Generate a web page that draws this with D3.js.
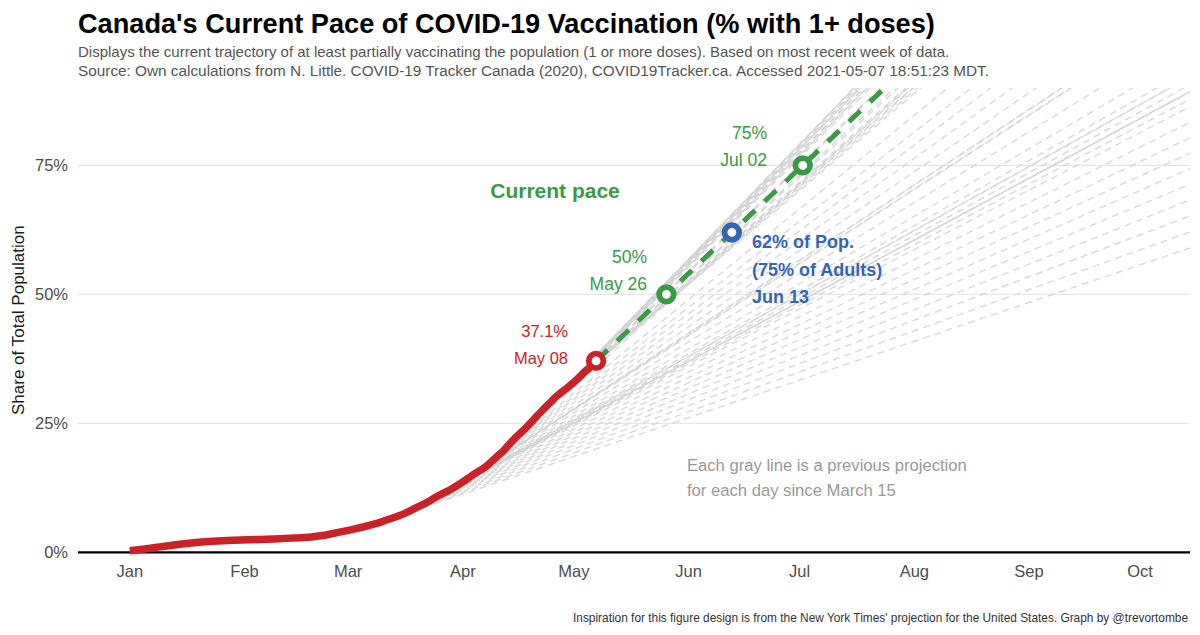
<!DOCTYPE html>
<html><head><meta charset="utf-8">
<script src="https://cdn.jsdelivr.net/npm/d3@7"></script>
<style>
body{margin:0;background:#fff;}
svg{display:block;font-family:"Liberation Sans",Arial,Helvetica,sans-serif;}
</style></head><body>
<svg id="chart" width="1200" height="635"></svg>
<script>
// ---------------- DATA ----------------
const titleText = "Canada's Current Pace of COVID-19 Vaccination (% with 1+ doses)";
const subtitleLines = [
  "Displays the current trajectory of at least partially vaccinating the population (1 or more doses). Based on most recent week of data.",
  "Source: Own calculations from N. Little. COVID-19 Tracker Canada (2020), COVID19Tracker.ca. Accessed 2021-05-07 18:51:23 MDT."
];
const captionText = "Inspiration for this figure design is from the New York Times' projection for the United States. Graph by @trevortombe";
const yAxisTitle = "Share of Total Population";
const noteLines = ["Each gray line is a previous projection", "for each day since March 15"];

const monthTickDates = ["2021-01-01","2021-02-01","2021-03-01","2021-04-01","2021-05-01","2021-06-01","2021-07-01","2021-08-01","2021-09-01","2021-10-01"];
const monthTickLabels = ["Jan","Feb","Mar","Apr","May","Jun","Jul","Aug","Sep","Oct"];
const yTicks = [0, 25, 50, 75];
const yTickLabels = ["0%","25%","50%","75%"];

// actual share with 1+ doses (% of population)
const actualDates = [
  "2021-01-01","2021-01-05","2021-01-08","2021-01-12","2021-01-15","2021-01-19","2021-01-22","2021-01-26","2021-01-29",
  "2021-02-02","2021-02-05","2021-02-09","2021-02-12","2021-02-16","2021-02-19","2021-02-23","2021-02-26",
  "2021-03-02","2021-03-05",
  "2021-03-08","2021-03-09","2021-03-10","2021-03-11","2021-03-12","2021-03-13","2021-03-14","2021-03-15","2021-03-16","2021-03-17",
  "2021-03-18","2021-03-19","2021-03-20","2021-03-21","2021-03-22","2021-03-23","2021-03-24","2021-03-25","2021-03-26","2021-03-27",
  "2021-03-28","2021-03-29","2021-03-30","2021-03-31","2021-04-01","2021-04-02","2021-04-03","2021-04-04","2021-04-05","2021-04-06",
  "2021-04-07","2021-04-08","2021-04-09","2021-04-10","2021-04-11","2021-04-12","2021-04-13","2021-04-14","2021-04-15","2021-04-16",
  "2021-04-17","2021-04-18","2021-04-19","2021-04-20","2021-04-21","2021-04-22","2021-04-23","2021-04-24","2021-04-25","2021-04-26",
  "2021-04-27","2021-04-28","2021-04-29","2021-04-30","2021-05-01","2021-05-02","2021-05-03","2021-05-04","2021-05-05","2021-05-06",
  "2021-05-07"
];
const actualShare = [
  0.30, 0.65, 0.95, 1.30, 1.60, 1.90, 2.10, 2.25, 2.35,
  2.45, 2.50, 2.60, 2.70, 2.80, 2.95, 3.35, 3.80,
  4.40, 4.90,
  5.45, 5.65, 5.90, 6.15, 6.40, 6.65, 6.90, 7.15, 7.45, 7.80,
  8.15, 8.50, 8.85, 9.20, 9.55, 9.95, 10.40, 10.80, 11.20, 11.55,
  11.90, 12.30, 12.75, 13.20, 13.65, 14.15, 14.65, 15.15, 15.60, 16.00,
  16.50, 17.10, 17.75, 18.40, 19.05, 19.70, 20.50, 21.30, 22.05, 22.75,
  23.40, 24.10, 24.85, 25.60, 26.40, 27.15, 27.90, 28.60, 29.30, 30.05,
  30.65, 31.20, 31.75, 32.35, 32.95, 33.60, 34.30, 35.00, 35.60, 36.30,
  37.10
];
const projectionStartDate = "2021-03-15";
const paceWindowDays = 7;

const currentLabels = ["37.1%", "May 08"];
const milestoneShares = [50, 75];
const milestoneLabels = [["50%", "May 26"], ["75%", "Jul 02"]];
const adultsShare = 62;
const adultsLabels = ["62% of Pop.", "(75% of Adults)", "Jun 13"];
const paceLabel = "Current pace";

// ---------------- STYLE / LAYOUT ----------------
const C = {red:"#cb2128", green:"#3a9a47", blue:"#3565b3", grid:"#e6e6e6", proj:"#d2d2d2", tick:"#4d4d4d", note:"#999999", sub:"#555555"};
const plot = {left:78, right:1190, top:88, bottom:552.3};

const parse = d3.timeParse("%Y-%m-%d");
const DAY = 864e5;
const svg = d3.select("#chart");

const x = d3.scaleTime()
  .domain([new Date(2020, 11, 18), new Date(2021, 9, 14, 12)])
  .range([plot.left, plot.right]);
const y = d3.scaleLinear().domain([0, 90]).range([plot.bottom, plot.top]);

function fitWidth(sel, target){
  const w = sel.node().getComputedTextLength();
  const fs = parseFloat(sel.attr("font-size"));
  sel.attr("font-size", (fs * target / w).toFixed(2));
}

// Title & subtitles
const t = svg.append("text").attr("x", 78).attr("y", 33).attr("font-size", 27).attr("font-weight", "bold")
  .attr("fill", "#000").text(titleText);
fitWidth(t, 857);
const subTargets = [872, 912];
subtitleLines.forEach((s, i) => {
  const st = svg.append("text").attr("x", 78).attr("y", 57 + i * 18.5).attr("font-size", 14)
    .attr("fill", C.sub).text(s);
  fitWidth(st, subTargets[i]);
});

// Grid
const g = svg.append("g");
g.selectAll("line.grid").data(yTicks.filter(d => d > 0)).join("line")
  .attr("x1", plot.left).attr("x2", plot.right)
  .attr("y1", d => y(d)).attr("y2", d => y(d))
  .attr("stroke", C.grid).attr("stroke-width", 1.2);

// Y tick labels
g.selectAll("text.ytick").data(yTicks).join("text")
  .attr("x", 68).attr("y", d => y(d)).attr("dy", "0.36em")
  .attr("text-anchor", "end").attr("font-size", 16.5).attr("fill", C.tick)
  .text((d, i) => yTickLabels[i]);

// X tick labels
g.selectAll("text.xtick").data(monthTickDates).join("text")
  .attr("x", d => x(parse(d))).attr("y", 577)
  .attr("text-anchor", "middle").attr("font-size", 16.5).attr("fill", C.tick)
  .text((d, i) => monthTickLabels[i]);

// Y axis title
svg.append("text").attr("transform", `translate(24,${(plot.top + plot.bottom) / 2}) rotate(-90)`)
  .attr("text-anchor", "middle").attr("font-size", 17).attr("fill", "#1a1a1a").text(yAxisTitle);

// clip
svg.append("clipPath").attr("id", "clip").append("rect")
  .attr("x", plot.left).attr("y", plot.top).attr("width", plot.right - plot.left).attr("height", plot.bottom - plot.top);

// Data prep
const actual = actualDates.map((d, i) => ({date: parse(d), v: actualShare[i]}));
const byTime = new Map(actual.map(d => [d.date.getTime(), d.v]));
const projStart = parse(projectionStartDate);
const xEnd = x.domain()[1];
const projections = actual.filter(d => d.date >= projStart).map(d => {
  const prev = byTime.get(d.date.getTime() - paceWindowDays * DAY);
  const rate = (d.v - prev) / paceWindowDays;
  const days = (xEnd - d.date) / DAY;
  return {date: d.date, v: d.v, rate, end: {date: xEnd, v: d.v + rate * days}};
});
const current = projections[projections.length - 1];
const dateAt = share => new Date(current.date.getTime() + (share - current.v) / current.rate * DAY);

const clipG = svg.append("g").attr("clip-path", "url(#clip)");
// gray projections
clipG.selectAll("line.proj").data(projections.slice(0, -1)).join("line")
  .attr("x1", d => x(d.date)).attr("y1", d => y(d.v))
  .attr("x2", d => x(d.end.date)).attr("y2", d => y(d.end.v))
  .attr("stroke", C.proj).attr("stroke-width", 1.4).attr("stroke-dasharray", "7,5").attr("opacity", 0.85);

// baseline
svg.append("line").attr("x1", plot.left).attr("x2", plot.right).attr("y1", y(0)).attr("y2", y(0))
  .attr("stroke", "#000").attr("stroke-width", 2.2);

// current pace dashed green
clipG.append("line")
  .attr("x1", x(current.date)).attr("y1", y(current.v))
  .attr("x2", x(current.end.date)).attr("y2", y(current.end.v))
  .attr("stroke", C.green).attr("stroke-width", 5).attr("stroke-dasharray", "16,13");

// red actual line
const line = d3.line().x(d => x(d.date)).y(d => y(d.v));
svg.append("path").datum(actual).attr("d", line).attr("fill", "none")
  .attr("stroke", C.red).attr("stroke-width", 7.5).attr("stroke-linejoin", "round");

// circles
function ring(cx, cy, col){
  svg.append("circle").attr("cx", cx).attr("cy", cy).attr("r", 7.3)
    .attr("fill", "#fff").attr("stroke", col).attr("stroke-width", 5.8);
}
milestoneShares.forEach((s, i) => {
  const d = dateAt(s);
  ring(x(d), y(s), C.green);
});
ring(x(dateAt(adultsShare)), y(adultsShare), C.blue);
ring(x(current.date), y(current.v), C.red);

// labels
function labelPair(lines, xr, y0, col, fs){
  lines.forEach((l, i) => svg.append("text").attr("x", xr).attr("y", y0 + i * 27).attr("text-anchor", "end")
    .attr("font-size", fs).attr("fill", col).text(l));
}
labelPair(currentLabels, 568, 337, C.red, 16.5);
const msX = [647, 767], msY = [263, 139];
milestoneLabels.forEach((ls, i) => labelPair(ls, msX[i], msY[i], C.green, 17.5));

adultsLabels.forEach((l, i) => svg.append("text").attr("x", 752).attr("y", 248 + i * 27.5)
  .attr("font-size", 18).attr("font-weight", "bold").attr("fill", C.blue).text(l));

svg.append("text").attr("x", 555).attr("y", 198).attr("text-anchor", "middle")
  .attr("font-size", 21).attr("font-weight", "bold").attr("fill", C.green).text(paceLabel);

const noteTargets = [280, 209];
noteLines.forEach((l, i) => {
  const nt = svg.append("text").attr("x", 687).attr("y", 471 + i * 25).attr("font-size", 16)
    .attr("fill", C.note).text(l);
  fitWidth(nt, noteTargets[i]);
});

const cap = svg.append("text").attr("x", 1188).attr("y", 622).attr("text-anchor", "end")
  .attr("font-size", 11.5).attr("fill", "#333").text(captionText);
fitWidth(cap, 615);
</script>
</body></html>
